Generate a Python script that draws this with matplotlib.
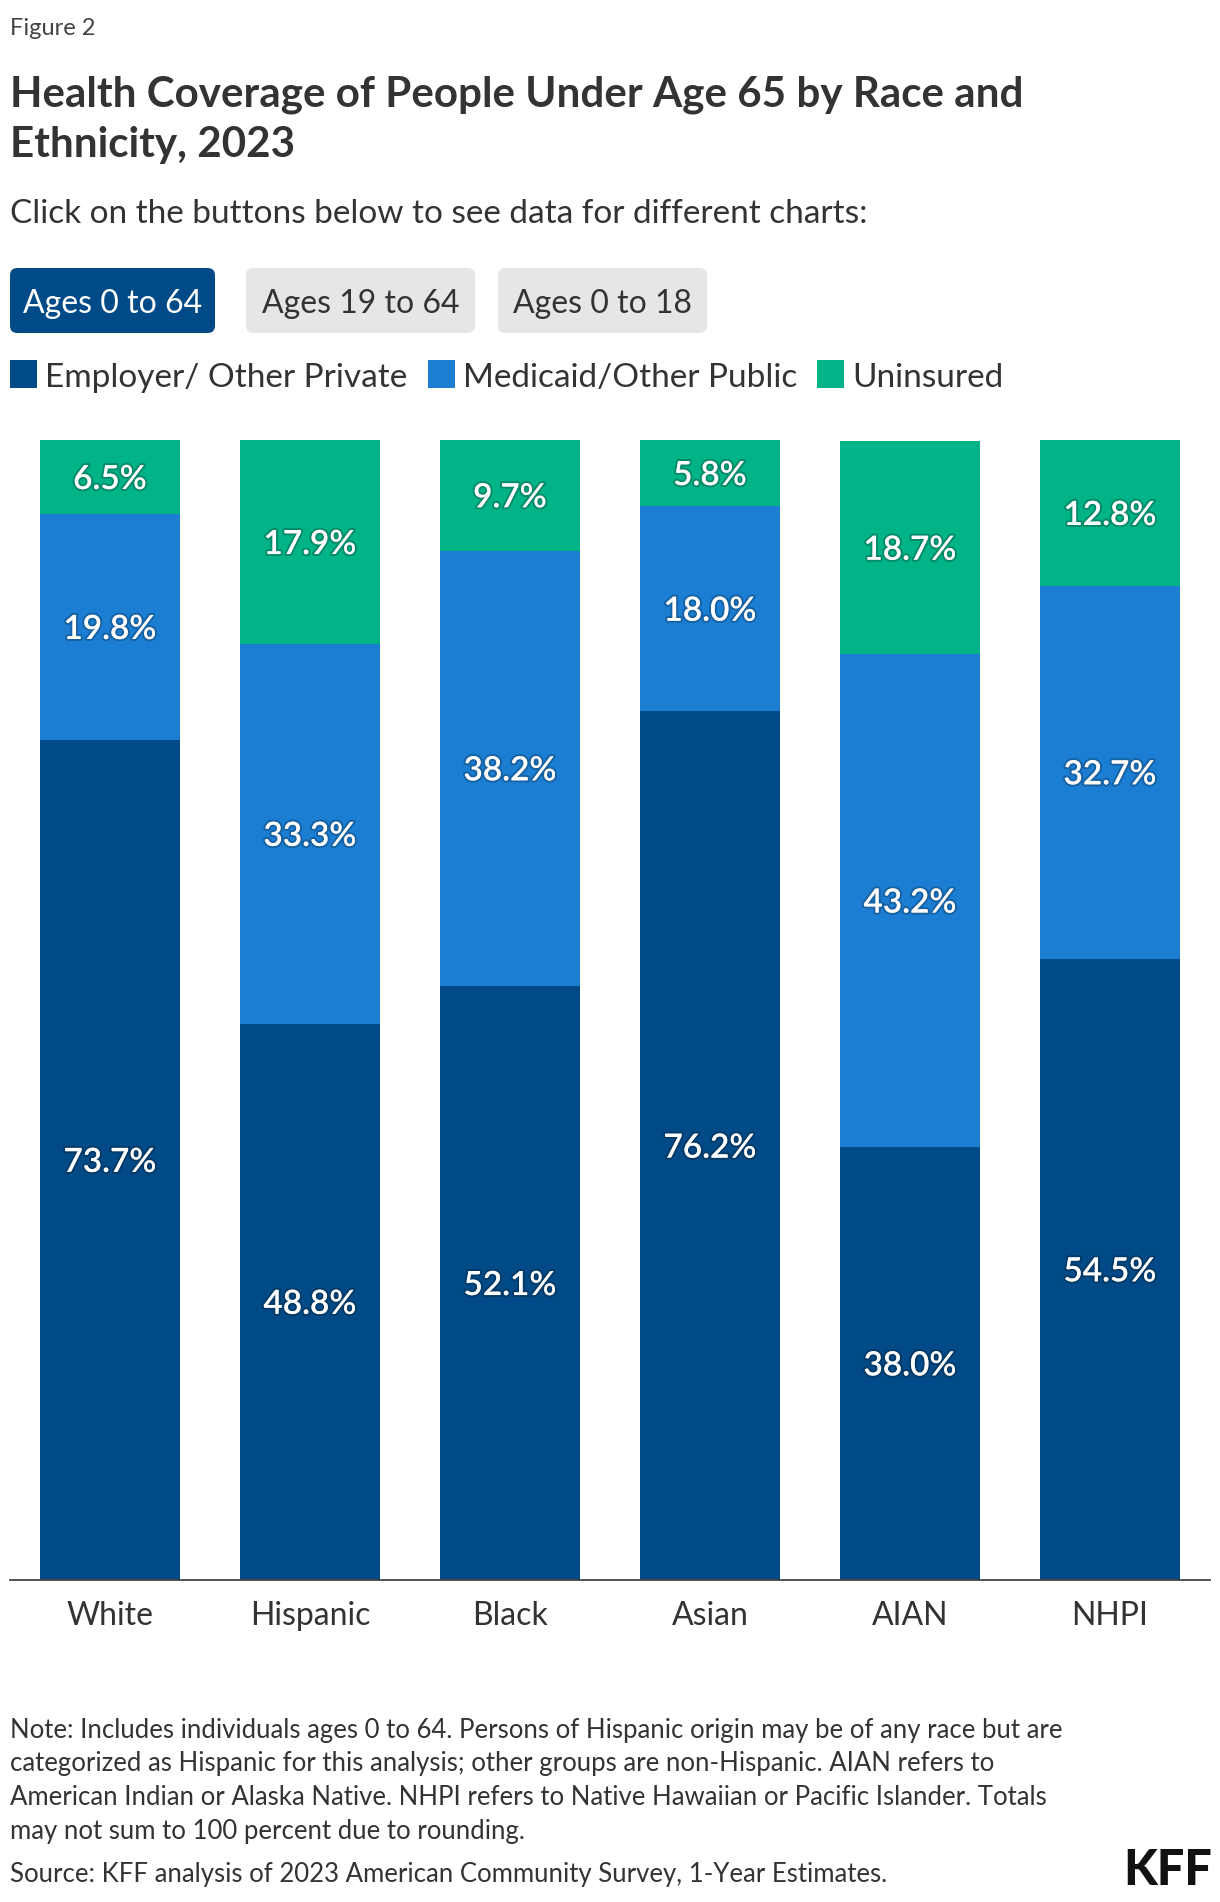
import numpy as np
import matplotlib.pyplot as plt
import matplotlib.patheffects as pe
from matplotlib.patches import FancyBboxPatch, Rectangle

plt.rcParams['font.family'] = ['Lato', 'DejaVu Sans']

# data
groups = ["White", "Hispanic", "Black", "Asian", "AIAN", "NHPI"]
employer = [73.7, 48.8, 52.1, 76.2, 38.0, 54.5]
medicaid = [19.8, 33.3, 38.2, 18.0, 43.2, 32.7]
uninsured = [6.5, 17.9, 9.7, 5.8, 18.7, 12.8]
series_names = ["Employer/ Other Private", "Medicaid/Other Public", "Uninsured"]
buttons = ["Ages 0 to 64", "Ages 19 to 64", "Ages 0 to 18"]

colors = ["#004b87", "#1c7ed3", "#00b488"]
txt = "#333333"

W, H = 1220, 1902
fig = plt.figure(figsize=(W / 100, H / 100), dpi=100)

def fy(y):  # pixels from top -> figure fraction
    return 1 - y / H

def fx(x):
    return x / W

# header
fig.text(fx(10), fy(35), "Figure 2", fontsize=17, color="#444444", va="baseline")
fig.text(fx(10), fy(106), "Health Coverage of People Under Age 65 by Race and",
         fontsize=30.3, fontweight="bold", color=txt, va="baseline")
fig.text(fx(10), fy(157), "Ethnicity, 2023", fontsize=30.3, fontweight="bold", color=txt, va="baseline")
fig.text(fx(10), fy(223), "Click on the buttons below to see data for different charts:",
         fontsize=24, color=txt, va="baseline")

# buttons
btn_x = [(10, 215), (246, 475), (498, 707)]
for i, (b, (x0, x1)) in enumerate(zip(buttons, btn_x)):
    active = i == 0
    box = FancyBboxPatch((fx(x0), fy(333)), fx(x1 - x0), (333 - 268) / H,
                         boxstyle="round,pad=0,rounding_size=0.006",
                         transform=fig.transFigure, facecolor="#004b87" if active else "#e6e6e6",
                         edgecolor="none", mutation_aspect=W / H)
    fig.patches.append(box)
    fig.text(fx((x0 + x1) / 2), fy(313), b, fontsize=23, ha="center", va="baseline",
             color="white" if active else txt)

# legend
leg_x = [10, 428, 817]
for name, c, x in zip(series_names, colors, leg_x):
    fig.patches.append(Rectangle((fx(x), fy(388)), fx(27), 28 / H, transform=fig.transFigure,
                                 facecolor=c, edgecolor="none"))
    fig.text(fx(x + 35), fy(387), name, fontsize=24, color=txt, va="baseline")

# chart
ax = fig.add_axes([fx(10), fy(1580), fx(1200), (1580 - 440) / H])
x = np.arange(len(groups))
bottom = np.zeros(len(groups))
shadow = [pe.withStroke(linewidth=3, foreground=(0, 0, 0, 0.22))]
for vals, c in zip([employer, medicaid, uninsured], colors):
    vals = np.array(vals)
    ax.bar(x, vals, bottom=bottom, width=0.70, color=c, edgecolor="none")
    for xi, b, v in zip(x, bottom, vals):
        ax.text(xi, b + v / 2, f"{v:.1f}%", ha="center", va="center_baseline", color="white",
                fontsize=24, fontweight="semibold", path_effects=shadow)
    bottom += vals

ax.set_xlim(-0.5, len(groups) - 0.5)
ax.set_ylim(0, 100)
ax.set_yticks([])
ax.set_xticks(x)
ax.set_xticklabels(groups, fontsize=23, color=txt)
ax.tick_params(axis="x", length=0, pad=15)
for s in ["top", "right", "left"]:
    ax.spines[s].set_visible(False)
ax.spines["bottom"].set_color("#444444")
ax.spines["bottom"].set_linewidth(1.3)

# notes
notes = [
    "Note: Includes individuals ages 0 to 64. Persons of Hispanic origin may be of any race but are",
    "categorized as Hispanic for this analysis; other groups are non-Hispanic. AIAN refers to",
    "American Indian or Alaska Native. NHPI refers to Native Hawaiian or Pacific Islander. Totals",
    "may not sum to 100 percent due to rounding.",
]
for i, line in enumerate(notes):
    fig.text(fx(10), fy(1738 + i * 33.5), line, fontsize=18.5, color=txt, va="baseline")
fig.text(fx(10), fy(1882), "Source: KFF analysis of 2023 American Community Survey, 1-Year Estimates.",
         fontsize=18.5, color=txt, va="baseline")
fig.text(fx(1212), fy(1885), "KFF", fontsize=35, fontweight="black", color="#111111",
         ha="right", va="baseline")

fig.savefig("out.png", dpi=100)
